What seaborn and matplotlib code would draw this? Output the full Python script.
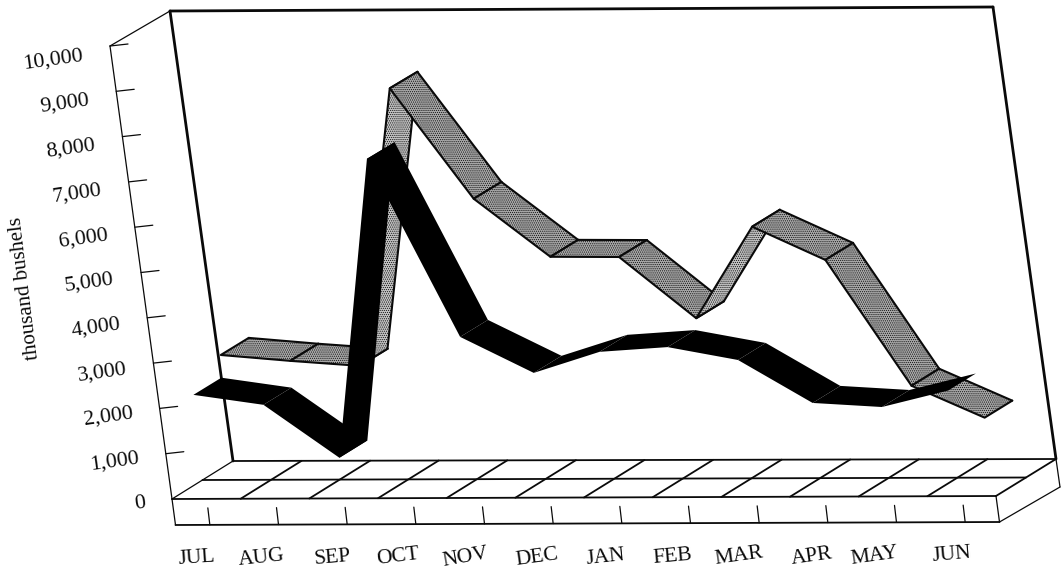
import numpy as np
import pandas as pd
import matplotlib
matplotlib.use("Agg")
import matplotlib.pyplot as plt
import seaborn as sns

# ---- data ----
months = ["JUL", "AUG", "SEP", "OCT", "NOV", "DEC", "JAN", "FEB", "MAR", "APR", "MAY", "JUN"]
black_series = [2280, 2055, 880, 7480, 3540, 2740, 3200, 3300, 3010, 2055, 1960, 2320]
gray_series = [2750, 2615, 2500, 8640, 6190, 4900, 4890, 3530, 5550, 4810, 2020, 1310]
y_ticks = [0, 1000, 2000, 3000, 4000, 5000, 6000, 7000, 8000, 9000, 10000]
y_title = "thousand bushels"

# ---- look ----
sns.set_theme(style="white")
plt.rcParams["font.family"] = ["Liberation Serif", "DejaVu Serif"]
plt.rcParams["hatch.linewidth"] = 0.55

# ---- oblique 3-D frame (canvas pixels) ----
VMAX = 10000
NM = 12
F = {(0, 0): (172, 499), (1, 0): (996, 496), (0, 1): (233, 461), (1, 1): (1056, 459)}
T = {(0, 0): (110, 46), (1, 0): (933, 44), (0, 1): (170, 11), (1, 1): (993, 7)}


def blend(C, u, d):
    c = {k: np.array(v, float) for k, v in C.items()}
    return (c[0, 0] * (1 - u) * (1 - d) + c[1, 0] * u * (1 - d)
            + c[0, 1] * (1 - u) * d + c[1, 1] * u * d)


def proj(m, v, d):
    u = m / NM
    base, top = blend(F, u, d), blend(T, u, d)
    return base + (top - base) * (v / VMAX)


fig = plt.figure(figsize=(10.62, 5.77), dpi=100, facecolor="white")
ax = fig.add_axes([0, 0, 1, 1])
ax.set_xlim(0, 1062)
ax.set_ylim(577, 0)
ax.axis("off")

HEAVY, MID, THIN = 2.0, 1.3, 0.9
INK = "#0a0a0a"


def seg(a, b, lw=MID, color=INK, z=2):
    ax.plot([a[0], b[0]], [a[1], b[1]], color=color, lw=lw, solid_capstyle="round", zorder=z)


# walls
seg(proj(0, 0, 0), proj(0, VMAX, 0), THIN)
seg(proj(0, VMAX, 0), proj(0, VMAX, 1), THIN)
seg(proj(0, 0, 1), proj(0, VMAX, 1), HEAVY)
seg(proj(0, VMAX, 1), proj(NM, VMAX, 1), HEAVY)
seg(proj(NM, VMAX, 1), proj(NM, 0, 1), HEAVY)

# floor grid
for d in (0, 0.5, 1):
    seg(proj(0, 0, d), proj(NM, 0, d), MID)
for m in range(NM + 1):
    seg(proj(m, 0, 0), proj(m, 0, 1), MID if m else THIN)

# base slab
DROP = np.array([3.5, 26.0])
a, b, c = proj(0, 0, 0), proj(NM, 0, 0), proj(NM, 0, 1)
seg(a, a + DROP, THIN)
seg(a + DROP, b + DROP, MID)
seg(b, b + DROP, THIN)
seg(b + DROP, c + np.array([4.0, 28.0]), THIN)
seg(c, c + np.array([4.0, 28.0]), THIN)

# ticks on slab front
for i in range(NM):
    p = proj(i + 0.5, 0, 0)
    seg(p + np.array([1.5, 9]), p + np.array([3.5, 26]), THIN)

# y ticks + labels
for v in y_ticks:
    p = proj(0, v, 0)
    if v > 0:
        seg(p, p + np.array([18, -2]), THIN)
    lab = f"{v:,}"
    ax.text(p[0] - 27, p[1] + 4 + 6 * v / VMAX, lab, ha="right", va="center", fontsize=15.8,
            rotation=8, rotation_mode="anchor", color=INK)

ax.text(25, 288, y_title, rotation=97, ha="center", va="center", fontsize=15,
        rotation_mode="anchor", color=INK)

# month labels
label_x = [197, 261, 333, 398, 465, 537, 606, 673, 739, 812, 875, 952]
label_y = [558, 558, 558, 557, 558, 558, 557, 557, 556, 557, 556, 555]
label_rot = [4, 6, 5, 7, 10, 8, 6, 5, 8, 8, 8, 5]
for name, x, y, r in zip(months, label_x, label_y, label_rot):
    ax.text(x, y, name, ha="center", va="center", fontsize=15.5, rotation=r,
            rotation_mode="anchor", color=INK)


def ribbon(values, d0, d1, shade, z, hatch=None, outline=True):
    n = len(values)
    front = np.array([proj(i + 0.5, values[i], d0) for i in range(n)])
    back = np.array([proj(i + 0.5, values[i], d1) for i in range(n)])
    for i in range(n - 1):
        quad = np.array([front[i], front[i + 1], back[i + 1], back[i]])
        col = shade(values[i], values[i + 1])
        zi = z + i * 0.01
        ax.fill(quad[:, 0], quad[:, 1], facecolor=col, edgecolor="#111111" if hatch else col,
                hatch=hatch, lw=0, zorder=zi)
        if outline:
            for idx in ([3, 0, 1, 2], [2, 3]):
                df = pd.DataFrame({"x": quad[idx, 0], "y": quad[idx, 1]})
                sns.lineplot(data=df, x="x", y="y", sort=False, estimator=None, color=INK,
                             lw=1.5, ax=ax, legend=False, zorder=zi)


def gray_shade(a, b):
    if b - a > 1000:
        return "#c4c4c4"
    return "#aaaaaa"


ribbon(gray_series, 0.52, 0.98, gray_shade, 5, hatch="........")
ribbon(black_series, 0.02, 0.48, lambda a, b: "#000000", 7, outline=False)

ax.set_xlabel("")
ax.set_ylabel("")
ax.set_xlim(0, 1062)
ax.set_ylim(577, 0)
fig.savefig("out.png", dpi=100, facecolor="white")
